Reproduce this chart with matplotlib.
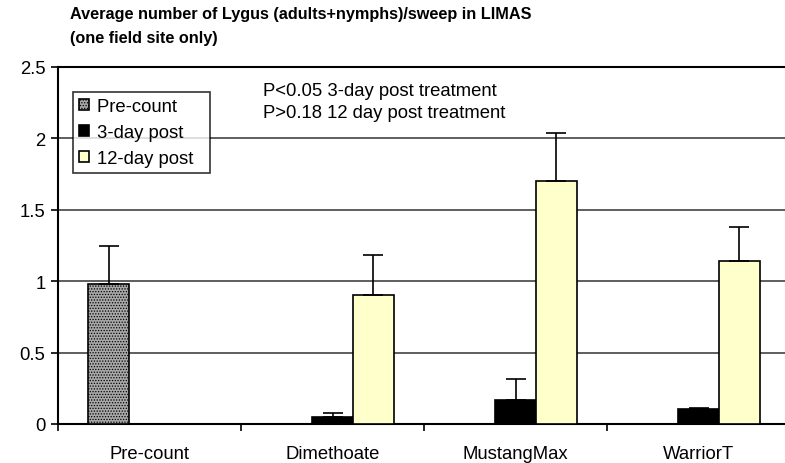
import matplotlib.pyplot as plt
import numpy as np

plt.rcParams['font.family'] = ['Liberation Sans', 'DejaVu Sans']
plt.rcParams['hatch.linewidth'] = 0.6

categories = ['Pre-count', 'Dimethoate', 'MustangMax', 'WarriorT']
series = ['Pre-count', '3-day post', '12-day post']
pre = [0.98, 0, 0, 0]
day3 = [0, 0.05, 0.17, 0.105]
day12 = [0, 0.90, 1.70, 1.14]
err_pre = [0.27, 0, 0, 0]
err3 = [0, 0.03, 0.145, 0.005]
err12 = [0, 0.28, 0.34, 0.24]

fig = plt.figure(figsize=(7.85, 4.64), dpi=100)
ax = fig.add_axes([58/785, 39/464, 732/785, 357/464])

x = np.arange(len(categories))
w = 0.224
styles = [
    dict(color='#a8a8a8', hatch='......'),
    dict(color='black'),
    dict(color='#ffffcc'),
]
vals = [pre, day3, day12]
errs = [err_pre, err3, err12]
for i in range(3):
    pos = x + (i - 1) * w
    ax.bar(pos, vals[i], w, edgecolor='black', linewidth=1.2, label=series[i] + '  ',
           zorder=3, **styles[i])
    v = np.array(vals[i])
    e = np.array(errs[i])
    m = e > 0
    ax.errorbar(pos[m], v[m], yerr=[np.zeros(m.sum()), e[m]], fmt='none',
                ecolor='black', elinewidth=1.2, capsize=7, capthick=1.2, zorder=4)

fs = 13.3
ax.set_xlim(-0.5, 3.5)
ax.set_ylim(0, 2.5)
ax.set_yticks([0, 0.5, 1, 1.5, 2, 2.5])
ax.set_yticklabels(['0', '0.5', '1', '1.5', '2', '2.5'], fontsize=fs)
ax.yaxis.grid(True, color='#333333', linewidth=1.1)
ax.set_axisbelow(True)
ax.set_xticks(np.arange(-0.5, 4, 1))
ax.set_xticklabels([])
ax.set_xticks(x, minor=True)
ax.set_xticklabels(categories, minor=True, fontsize=fs)
ax.tick_params(axis='x', which='minor', length=0, pad=15)
ax.tick_params(axis='both', which='major', direction='out', length=5, width=1.2)
ax.tick_params(axis='y', pad=4)
for s in ['left', 'bottom', 'top']:
    ax.spines[s].set_linewidth(1.5)
ax.spines['right'].set_visible(False)

leg = ax.legend(loc='upper left', bbox_to_anchor=(15/732, 1 - 25/357), fontsize=fs,
                frameon=True, fancybox=False, edgecolor='black', handlelength=0.55,
                handleheight=0.55, handletextpad=0.45, borderpad=0.32, labelspacing=0.5,
                borderaxespad=0)
leg.get_frame().set_linewidth(1.2)

fig.text(263/785, 1 - 92/464, 'P<0.05 3-day post treatment', fontsize=fs, va='center')
fig.text(263/785, 1 - 113/464, 'P>0.18 12 day post treatment', fontsize=fs, va='center')
fig.text(70/785, 1 - 15/464, 'Average number of Lygus (adults+nymphs)/sweep in LIMAS',
         fontsize=11.7, fontweight='bold', va='center')
fig.text(70/785, 1 - 38/464, '(one field site only)', fontsize=11.7, fontweight='bold',
         va='center')

plt.savefig('out.png')
